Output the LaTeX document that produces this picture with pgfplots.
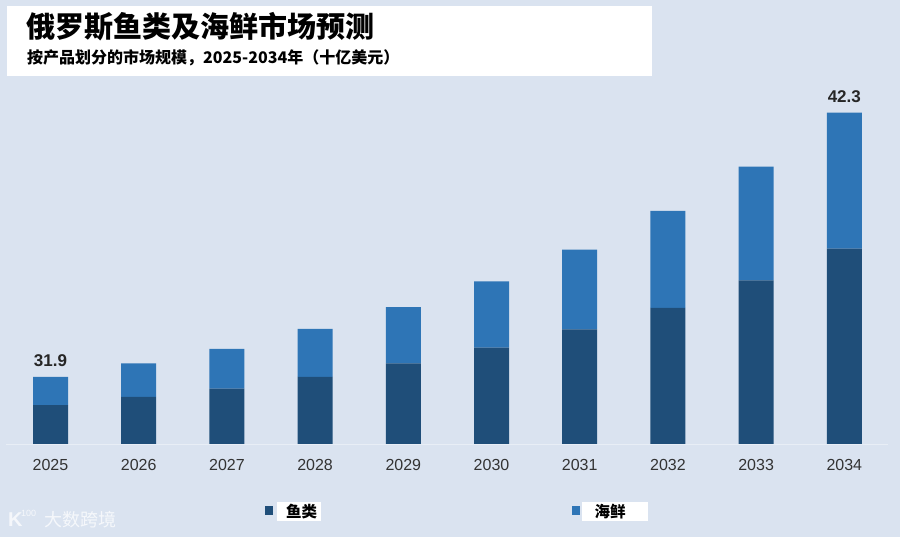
\documentclass[border=0pt]{standalone}
\usepackage{pgfplots}
\pgfplotsset{compat=1.18}
\usepackage{fontspec}
\setmainfont{Liberation Sans}
\newfontfamily\cjk{Noto Sans CJK SC}
\definecolor{bg}{HTML}{DAE3F0}
\definecolor{fish}{HTML}{1F4E79}
\definecolor{sea}{HTML}{2E75B6}
\definecolor{tickc}{HTML}{333333}
\definecolor{basel}{HTML}{E8EEF6}
\begin{document}
\begin{tikzpicture}[x=1bp,y=1bp]
\fill[bg] (0,0) rectangle (900,537);
\useasboundingbox (0,0) rectangle (900,537);
% title box
\fill[white] (7,461) rectangle (652,531);
\node[anchor=west, inner sep=0pt, font=\cjk\bfseries\fontsize{29bp}{32bp}\selectfont] at (26,510.5) {俄罗斯鱼类及海鲜市场预测};
\node[anchor=west, inner sep=0pt, font=\cjk\bfseries\fontsize{16bp}{18bp}\selectfont] at (27,479) {按产品划分的市场规模，2025-2034年（十亿美元）};
\begin{axis}[
  at={(6.4bp,93bp)}, anchor=south west,
  scale only axis, width=882bp, height=349.2bp,
  xmin=-0.5, xmax=9.5, ymin=29.26, ymax=43,
  ybar stacked, bar width=35bp,
  axis line style={draw=none},
  ytick=\empty,
  xtick={0,...,9},
  xticklabels={2025,2026,2027,2028,2029,2030,2031,2032,2033,2034},
  major tick length=0pt,
  xticklabel style={anchor=base, yshift=-26.7bp, font=\fontsize{16bp}{18bp}\selectfont, text=tickc, inner sep=0pt},
  clip mode=individual,
]
\draw[basel, line width=0.8bp] (axis cs:-0.5,29.26) -- (axis cs:9.5,29.26);
\addplot[fill=fish, draw=none] coordinates {
(0,30.79) (1,31.11) (2,31.44) (3,31.90) (4,32.43)
(5,33.05) (6,33.77) (7,34.62) (8,35.70) (9,36.95)};
\addplot[fill=sea, draw=none] coordinates {
(0,1.11) (1,1.32) (2,1.56) (3,1.89) (4,2.22)
(5,2.61) (6,3.14) (7,3.81) (8,4.47) (9,5.35)};
\node[anchor=base, yshift=10.3bp, inner sep=0pt, font=\bfseries\fontsize{17bp}{19bp}\selectfont, text=black!85] at (axis cs:0,31.9) {31.9};
\node[anchor=base, yshift=10.3bp, inner sep=0pt, font=\bfseries\fontsize{17bp}{19bp}\selectfont, text=black!85] at (axis cs:9,42.3) {42.3};
\end{axis}
% legend
\fill[fish] (265,22) rectangle (273,31);
\fill[white] (277,16) rectangle (321,35);
\node[anchor=center, inner sep=0pt, font=\cjk\bfseries\fontsize{15.5bp}{17bp}\selectfont] at (301.5,25.5) {鱼类};
\fill[sea] (572,22) rectangle (580,31);
\fill[white] (582,16) rectangle (648,35);
\node[anchor=center, inner sep=0pt, font=\cjk\bfseries\fontsize{15.5bp}{17bp}\selectfont] at (610,25.5) {海鲜};
% watermark
\node[anchor=west, inner sep=0pt, text=white, opacity=0.75, font=\bfseries\fontsize{20bp}{22bp}\selectfont] at (8,17) {K};
\node[anchor=west, inner sep=0pt, text=white, opacity=0.75, font=\fontsize{9bp}{10bp}\selectfont] at (21,24) {100};
\node[anchor=west, inner sep=0pt, text=white, opacity=0.75, font=\cjk\fontsize{18bp}{20bp}\selectfont] at (44,17) {大数跨境};
\end{tikzpicture}
\end{document}
